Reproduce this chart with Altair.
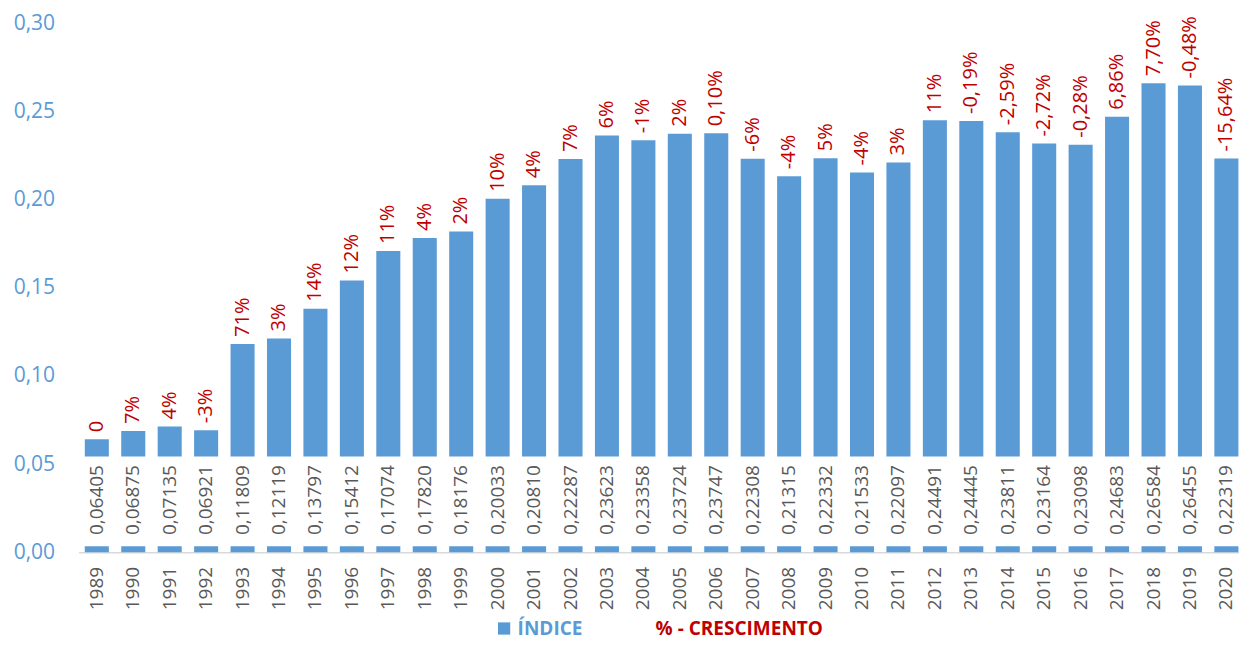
import altair as alt
import pandas as pd

years = ["1989", "1990", "1991", "1992", "1993", "1994", "1995", "1996", "1997", "1998",
         "1999", "2000", "2001", "2002", "2003", "2004", "2005", "2006", "2007", "2008",
         "2009", "2010", "2011", "2012", "2013", "2014", "2015", "2016", "2017", "2018",
         "2019", "2020"]
indice = [0.06405, 0.06875, 0.07135, 0.06921, 0.11809, 0.12119, 0.13797, 0.15412, 0.17074, 0.17820,
          0.18176, 0.20033, 0.20810, 0.22287, 0.23623, 0.23358, 0.23724, 0.23747, 0.22308, 0.21315,
          0.22332, 0.21533, 0.22097, 0.24491, 0.24445, 0.23811, 0.23164, 0.23098, 0.24683, 0.26584,
          0.26455, 0.22319]
crescimento = ["0", "7%", "4%", "-3%", "71%", "3%", "14%", "12%", "11%", "4%",
               "2%", "10%", "4%", "7%", "6%", "-1%", "2%", "0,10%", "-6%", "-4%",
               "5%", "-4%", "3%", "11%", "-0,19%", "-2,59%", "-2,72%", "-0,28%", "6,86%", "7,70%",
               "-0,48%", "-15,64%"]
y_ticks = [0.0, 0.05, 0.10, 0.15, 0.20, 0.25, 0.30]

df = pd.DataFrame({
    "ano": years,
    "indice": indice,
    "rotulo": [f"{v:.5f}".replace(".", ",") for v in indice],
    "cresc": crescimento,
})

BLUE = "#5B9BD5"
RED = "#C00000"
GRAY = "#595959"
FONT = "Open Sans"

x_enc = alt.X(
    "ano:N", sort=None, title=None,
    scale=alt.Scale(paddingInner=0.34, paddingOuter=0.17, range=[0, 1166]),
    axis=alt.Axis(labelAngle=270, labelAlign="right", labelBaseline="middle",
                  labelFont=FONT, labelFontSize=19, labelColor=GRAY,
                  labelPadding=14, ticks=False, tickSize=0,
                  domainColor="#D9D9D9", domainWidth=1.5, grid=False),
)

y_scale = alt.Scale(domain=[0, 0.30], nice=False, zero=True)

base = alt.Chart(df).encode(x=x_enc)

bars = base.mark_bar().transform_calculate(serie="'ÍNDICE'").encode(
    y=alt.Y("indice:Q", scale=y_scale, title=None,
            axis=alt.Axis(values=y_ticks, labelExpr="replace(format(datum.value, '.2f'), '.', ',')",
                          labelFont=FONT, labelFontSize=21, labelColor=BLUE,
                          labelPadding=24, ticks=False, tickSize=0, domain=False, grid=False)),
    color=alt.Color("serie:N", scale=alt.Scale(domain=["ÍNDICE"], range=[BLUE]),
                    legend=alt.Legend(title=None, orient="none", legendX=416, legendY=596,
                                      symbolType="square", symbolSize=150, symbolStrokeWidth=0,
                                      labelColor=BLUE, labelFont=FONT, labelFontSize=19,
                                      labelFontWeight="bold", labelOffset=4, padding=0,
                                      labelLimit=0)),
)

white_box = base.mark_bar(color="white", width=alt.RelativeBandSize(1.25)).encode(
    y=alt.datum(0.0034), y2=alt.datum(0.0543)
)

value_text = base.mark_text(angle=270, align="center", baseline="middle",
                            font=FONT, fontSize=19, color=GRAY).encode(
    y=alt.datum(0.0296), text="rotulo:N"
)

pct_text = base.mark_text(angle=270, align="left", baseline="middle", dx=7,
                          font=FONT, fontSize=20).transform_calculate(
    serie2="'% - CRESCIMENTO'").encode(
    y=alt.Y("indice:Q"),
    text="cresc:N",
    color=alt.Color("serie2:N", scale=alt.Scale(domain=["% - CRESCIMENTO"], range=[RED]),
                    legend=alt.Legend(title=None, orient="none", legendX=558, legendY=596,
                                      symbolOpacity=0, symbolSize=1, labelOffset=0,
                                      labelColor=RED, labelFont=FONT, labelFontSize=19,
                                      labelFontWeight="bold", padding=0, labelLimit=0)),
)

chart = alt.layer(bars, white_box, value_text, pct_text).resolve_scale(
    color="independent"
).properties(
    width=1160.4, height=529.3,
    autosize=alt.AutoSizeParams(type="none"),
    padding={"left": 70.6, "top": 15, "right": 0, "bottom": 86.7},
).configure_view(stroke=None)

chart.save("out.html", embed_options={"renderer": "svg", "actions": False})
